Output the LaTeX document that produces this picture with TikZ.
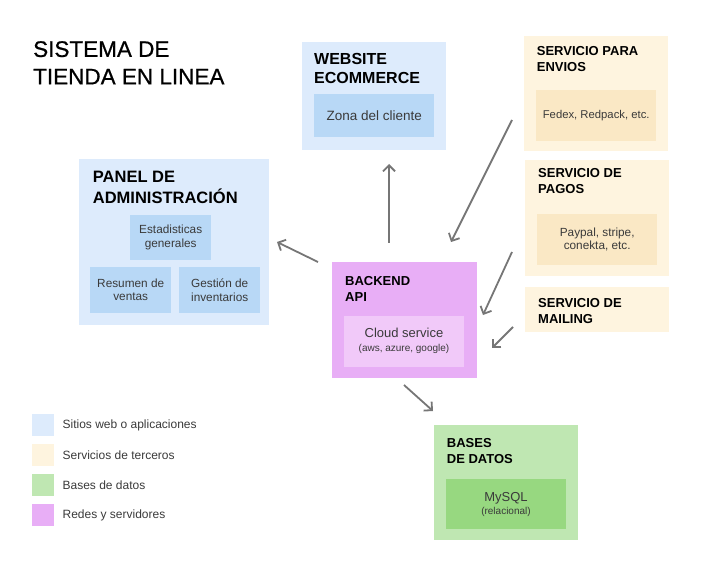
\documentclass[tikz,border=0pt]{standalone}
\usepackage{fontspec}
\setmainfont{Liberation Sans}
\newfontfamily\fuentetitulo{Liberation Sans}[FakeBold=0.7]
\usepackage{xcolor}
\usetikzlibrary{arrows.meta, positioning}

% colores de las cajas
\definecolor{webfondo}{HTML}{DDEBFC}
\definecolor{webint}{HTML}{B8D8F6}
\definecolor{servfondo}{HTML}{FEF4DF}
\definecolor{servint}{HTML}{FAE8C5}
\definecolor{bdfondo}{HTML}{BFE7B2}
\definecolor{bdint}{HTML}{97D880}
\definecolor{redfondo}{HTML}{E8AEF6}
\definecolor{redint}{HTML}{F1C9F9}
\definecolor{flecha}{HTML}{767676}
\definecolor{textogris}{HTML}{3A3A3A}

\begin{document}
\begin{tikzpicture}[x=1pt, y=-1pt,
    caja/.style={fill=#1, inner sep=0pt, anchor=north west},
    titulo/.style={inner sep=0pt, anchor=north west, align=left,
        font=\fontsize{16}{19.5}\selectfont\bfseries},
    subtitulo/.style={inner sep=0pt, anchor=north west, align=left,
        font=\fontsize{13}{15.5}\selectfont\bfseries},
    texto/.style={inner sep=0pt, align=center, text=textogris,
        font=\fontsize{11.8}{13.5}\selectfont},
    leyenda/.style={inner sep=0pt, anchor=west, text=textogris,
        font=\fontsize{12}{14}\selectfont},
    conector/.style={draw=flecha, line width=1.8pt,
        -{Straight Barb[length=6pt, width=12pt]}}]

    \useasboundingbox (0,0) rectangle (705,567);

    % =================================================================
    % 1. TITULO
    % =================================================================
    \node[inner sep=0pt, anchor=north west, align=left,
        font=\fontsize{22.5}{27.5}\selectfont\fuentetitulo] (titulo) at (33,41)
        {SISTEMA DE\\TIENDA EN LINEA};

    % =================================================================
    % 2. CAJAS DE SITIOS WEB
    % =================================================================
    \node[caja=webfondo, minimum width=144pt, minimum height=108pt] (web) at (302,42) {};
    \node[caja=webint, minimum width=120pt, minimum height=43pt] (webzona) at (314,94) {};
    \node[titulo] (webtit) at (314,52.7) {WEBSITE\\ECOMMERCE};
    \node[texto, font=\fontsize{13.5}{15}\selectfont] at (webzona.center) {Zona del cliente};

    \node[caja=webfondo, minimum width=190pt, minimum height=166pt] (panel) at (79,159) {};
    \node[titulo, font=\fontsize{16.5}{21}\selectfont\bfseries] (paneltit) at (92.7,170.7)
        {PANEL DE\\ADMINISTRACIÓN};
    \node[caja=webint, minimum width=81pt, minimum height=45pt] (estad) at (130,215) {};
    \node[caja=webint, minimum width=81pt, minimum height=45pt] (resumen) at (90,267.3) {};
    \node[caja=webint, minimum width=81pt, minimum height=45pt] (gestion) at (179,267.3) {};
    \node[texto] at (estad.center) {Estadisticas\\generales};
    \node[texto] at (resumen.center) {Resumen de\\ventas};
    \node[texto] at (gestion.center) {Gestión de\\inventarios};

    % =================================================================
    % 3. SERVICIOS DE TERCEROS
    % =================================================================
    \node[caja=servfondo, minimum width=144pt, minimum height=115pt] (envios) at (524,36) {};
    \node[caja=servint, minimum width=120pt, minimum height=51pt] (enviosint) at (536,90) {};
    \node[subtitulo] at (536.7,46.7) {SERVICIO PARA\\ENVIOS};
    \node[texto, font=\fontsize{11.3}{13}\selectfont] at (enviosint.center) {Fedex, Redpack, etc.};

    \node[caja=servfondo, minimum width=144pt, minimum height=116pt] (pagos) at (525,160) {};
    \node[caja=servint, minimum width=120pt, minimum height=51pt] (pagosint) at (537,214) {};
    \node[subtitulo] at (538,168.3) {SERVICIO DE\\PAGOS};
    \node[texto] at (pagosint.center) {Paypal, stripe,\\conekta, etc.};

    \node[caja=servfondo, minimum width=144pt, minimum height=45pt] (mailing) at (525,286.7) {};
    \node[subtitulo] at (538,298.3) {SERVICIO DE\\MAILING};

    % =================================================================
    % 4. BACKEND Y BASES DE DATOS
    % =================================================================
    \node[caja=redfondo, minimum width=145pt, minimum height=115pt] (backend) at (332,262.3) {};
    \node[caja=redint, minimum width=120pt, minimum height=51pt] (cloud) at (344,315.7) {};
    \node[subtitulo] at (345,276.7) {BACKEND\\API};
    \node[texto, anchor=base, font=\fontsize{13}{15}\selectfont] at (404,337) {Cloud service};
    \node[texto, anchor=base, font=\fontsize{10}{12}\selectfont] at (404,351.5) {(aws, azure, google)};

    \node[caja=bdfondo, minimum width=144pt, minimum height=115pt] (bases) at (434,425) {};
    \node[caja=bdint, minimum width=120pt, minimum height=50pt] (mysql) at (446,479) {};
    \node[subtitulo] at (446.7,438.3) {BASES\\DE DATOS};
    \node[texto, anchor=base, font=\fontsize{13}{15}\selectfont] at (506,501) {MySQL};
    \node[texto, anchor=base, font=\fontsize{10}{12}\selectfont] at (506,514) {(relacional)};

    % =================================================================
    % 5. FLECHAS
    % =================================================================
    \coordinate (bkArriba) at (389,243);
    \coordinate (webAbajo) at (389,164);
    \coordinate (bkIzq) at (318,262);
    \coordinate (panelDer) at (277,242);
    \coordinate (enviosIzq) at (512,120);
    \coordinate (bkEnvios) at (451,242);
    \coordinate (pagosIzq) at (512,252);
    \coordinate (bkPagos) at (483,315);
    \coordinate (mailIzq) at (513,327);
    \coordinate (bkMail) at (492,348);
    \coordinate (bkAbajo) at (404,385);
    \coordinate (basesArriba) at (433,411);

    \draw[conector] (bkArriba) -- (webAbajo);
    \draw[conector] (bkIzq) -- (panelDer);
    \draw[conector] (enviosIzq) -- (bkEnvios);
    \draw[conector] (pagosIzq) -- (bkPagos);
    \draw[conector] (mailIzq) -- (bkMail);
    \draw[conector] (bkAbajo) -- (basesArriba);

    % =================================================================
    % 6. LEYENDA
    % =================================================================
    \node[caja=webfondo, minimum size=22pt] (ley1) at (32,414) {};
    \node[caja=servfondo, minimum size=22pt] (ley2) at (32,444) {};
    \node[caja=bdfondo, minimum size=22pt] (ley3) at (32,474) {};
    \node[caja=redfondo, minimum size=22pt] (ley4) at (32,504) {};
    \node[leyenda, right=8pt of ley1] {Sitios web o aplicaciones};
    \node[leyenda, right=8pt of ley2] {Servicios de terceros};
    \node[leyenda, right=8pt of ley3] {Bases de datos};
    \node[leyenda, right=8pt of ley4] {Redes y servidores};

\end{tikzpicture}
\end{document}
